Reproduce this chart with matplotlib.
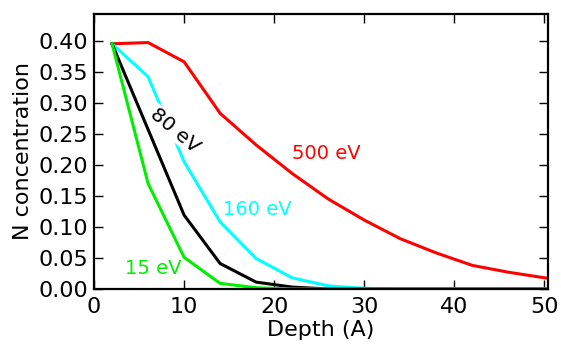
import numpy as np
import matplotlib
matplotlib.use('Agg')
import matplotlib.pyplot as plt

depth = [2, 6, 10, 14, 18, 22, 26, 30, 34, 38, 42, 46, 50, 54]
n_500 = [0.395, 0.397, 0.366, 0.283, 0.232, 0.186, 0.145, 0.111, 0.081, 0.058, 0.038, 0.027, 0.018, 0.012]
n_160 = [0.395, 0.342, 0.205, 0.108, 0.049, 0.018, 0.005, 0.001, 0.0, 0.0, 0.0, 0.0, 0.0, 0.0]
n_80 = [0.395, 0.257, 0.119, 0.041, 0.011, 0.003, 0.0, 0.0, 0.0, 0.0, 0.0, 0.0, 0.0, 0.0]
n_15 = [0.395, 0.170, 0.051, 0.009, 0.002, 0.0, 0.0, 0.0, 0.0, 0.0, 0.0, 0.0, 0.0, 0.0]

fig = plt.figure(figsize=(5.61, 3.44), dpi=100)
ax = fig.add_axes([0.1676, 0.160, 0.8092, 0.7993])

lw = 2.2
ax.plot(depth, n_500, color='red', lw=lw)
ax.plot(depth, n_160, color='cyan', lw=lw)
ax.plot(depth, n_80, color='black', lw=lw)
ax.plot(depth, n_15, color='#00ee00', lw=lw)

ax.text(22.0, 0.219, '500 eV', color='red', fontsize=14, va='center', ha='left')
ax.text(14.3, 0.128, '160 eV', color='cyan', fontsize=14, va='center', ha='left')
ax.text(3.4, 0.033, '15 eV', color='#00ee00', fontsize=14, va='center', ha='left')
ax.text(9.0, 0.256, '80 eV', color='black', fontsize=14.5, va='center', ha='center',
        rotation=-40, rotation_mode='anchor',
        bbox=dict(facecolor='white', edgecolor='none', pad=0.5), zorder=5)

ax.set_xlim(0, 50.4)
ax.set_ylim(0, 0.443)
ax.set_xticks([0, 10, 20, 30, 40, 50])
ax.set_yticks(np.arange(0, 0.41, 0.05))
ax.set_yticklabels(['%.2f' % v for v in np.arange(0, 0.41, 0.05)])
ax.tick_params(direction='in', top=True, right=True, length=6.5, width=1,
               labelsize=16)
ax.tick_params(axis='x', pad=6)
ax.tick_params(axis='y', pad=4)
for s in ax.spines.values():
    s.set_linewidth(1.6)
ax.set_xlabel('Depth (A)', fontsize=16, labelpad=2)
ax.set_ylabel('N concentration', fontsize=16, labelpad=4)

fig.savefig('out.png', dpi=100)
